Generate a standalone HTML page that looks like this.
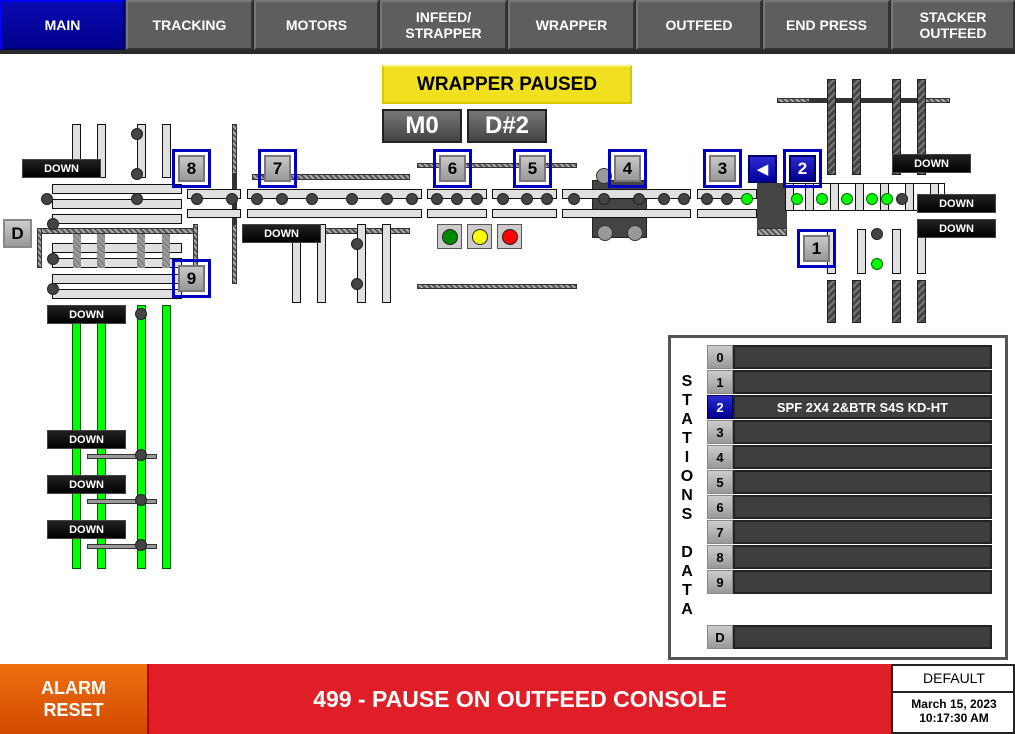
<!DOCTYPE html>
<html><head><meta charset="utf-8"><style>
*{box-sizing:border-box;margin:0;padding:0}
body{width:1015px;height:734px;background:#fff;position:relative;overflow:hidden;font-family:"Liberation Sans",sans-serif}
div{position:absolute}
.nb{top:0;height:50px;background:#5e5e5e;border:2px solid #777;border-right-color:#333;border-bottom-color:#333;color:#fff;font-weight:bold;font-size:14px;display:flex;align-items:center;justify-content:center;text-align:center;line-height:16px}
.r{background:#e0e0e0;border:1px solid #111}
.d{width:12px;height:12px;border-radius:50%;background:#444;border:1px solid #222}
.gd{width:12px;height:12px;border-radius:50%;background:#0f0;border:1px solid #060}
.h{background:repeating-linear-gradient(45deg,#555 0 2px,#aaa 2px 4px);border:1px solid #333}
.hv{background:repeating-linear-gradient(135deg,#444 0 3px,#777 3px 5px);border:1px solid #222}
.st{width:39px;height:39px;border:3px solid #0000c0}
.st span{position:absolute;left:3px;top:3px;width:27px;height:27px;background:linear-gradient(#c8c8c8,#999);border:2px solid #777;font-weight:bold;font-size:17px;display:flex;align-items:center;justify-content:center;color:#000}
.dn{width:79px;height:19px;background:linear-gradient(#222,#000);border:1px solid #444;color:#fff;font-size:11px;font-weight:bold;display:flex;align-items:center;justify-content:center}
.gb{background:#0f0;border:1px solid #050;width:9px}
.num{left:707px;width:26px;height:24px;background:linear-gradient(#ccc,#999);border:1px solid #888;font-weight:bold;font-size:13px;display:flex;align-items:center;justify-content:center}
.bar{left:733px;width:259px;height:24px;background:#3e3e3e;border:2px solid #222;color:#fff;font-weight:bold;font-size:13px;display:flex;align-items:center;justify-content:center}
.lt{width:25px;height:25px;background:#ccc;border:1px solid #555}
.lt i{position:absolute;left:4px;top:4px;width:16px;height:16px;border-radius:50%;border:1px solid #222}
</style></head><body>
<div style="left:0;top:0;width:1015px;height:54px;background:#2a2a2a"></div>
<div class="nb" style="left:0;width:125px;background:linear-gradient(#0a0ab0,#00008c);border-color:#00f #000060 #000060 #00f">MAIN</div>
<div class="nb" style="left:126px;width:127px">TRACKING</div>
<div class="nb" style="left:254px;width:125px">MOTORS</div>
<div class="nb" style="left:380px;width:127px">INFEED/<br>STRAPPER</div>
<div class="nb" style="left:508px;width:127px">WRAPPER</div>
<div class="nb" style="left:636px;width:126px">OUTFEED</div>
<div class="nb" style="left:763px;width:127px">END PRESS</div>
<div class="nb" style="left:891px;width:124px">STACKER<br>OUTFEED</div>

<!-- left infeed -->
<div class="r" style="left:72px;top:124px;width:9px;height:54px"></div>
<div class="r" style="left:97px;top:124px;width:9px;height:54px"></div>
<div class="r" style="left:137px;top:124px;width:9px;height:54px"></div>
<div class="r" style="left:162px;top:124px;width:9px;height:54px"></div>
<div class="d" style="left:131px;top:128px"></div><div class="d" style="left:131px;top:168px"></div>
<div class="dn" style="left:22px;top:159px">DOWN</div>
<div class="r" style="left:52px;top:184px;width:130px;height:10px"></div>
<div class="r" style="left:52px;top:199px;width:130px;height:10px"></div>
<div class="r" style="left:52px;top:214px;width:130px;height:10px"></div>
<div class="r" style="left:52px;top:243px;width:130px;height:10px"></div>
<div class="r" style="left:52px;top:258px;width:130px;height:10px"></div>
<div class="r" style="left:52px;top:274px;width:130px;height:10px"></div>
<div class="r" style="left:52px;top:289px;width:130px;height:10px"></div>
<div class="h" style="left:40px;top:228px;width:155px;height:6px"></div>
<div class="h" style="left:37px;top:228px;width:5px;height:40px"></div>
<div class="h" style="left:193px;top:224px;width:5px;height:44px"></div>
<div class="hv" style="left:73px;top:234px;width:8px;height:34px;background:repeating-linear-gradient(45deg,#999 0 3px,#777 3px 4px);border:none"></div>
<div class="hv" style="left:97px;top:234px;width:8px;height:34px;background:repeating-linear-gradient(45deg,#999 0 3px,#777 3px 4px);border:none"></div>
<div class="hv" style="left:137px;top:234px;width:8px;height:34px;background:repeating-linear-gradient(45deg,#999 0 3px,#777 3px 4px);border:none"></div>
<div class="hv" style="left:162px;top:234px;width:8px;height:34px;background:repeating-linear-gradient(45deg,#999 0 3px,#777 3px 4px);border:none"></div>
<div class="d" style="left:41px;top:193px"></div><div class="d" style="left:131px;top:193px"></div>
<div class="d" style="left:47px;top:218px"></div><div class="d" style="left:47px;top:253px"></div><div class="d" style="left:47px;top:283px"></div>
<div style="left:3px;top:219px;width:29px;height:29px;background:linear-gradient(#ccc,#999);border:2px solid #888;font-weight:bold;font-size:17px;display:flex;align-items:center;justify-content:center">D</div>
<div class="st" style="left:172px;top:149px"><span>8</span></div>
<div class="st" style="left:172px;top:259px"><span>9</span></div>
<div class="h" style="left:232px;top:124px;width:5px;height:160px"></div>
<div style="left:233px;top:173px;width:3px;height:52px;background:#333"></div>
<div class="r" style="left:187px;top:189px;width:54px;height:10px"></div>
<div class="r" style="left:187px;top:209px;width:54px;height:9px"></div>
<div class="d" style="left:191px;top:193px"></div><div class="d" style="left:226px;top:193px"></div>
<div class="h" style="left:252px;top:174px;width:158px;height:6px"></div>
<div class="r" style="left:247px;top:189px;width:175px;height:10px"></div>
<div class="r" style="left:247px;top:209px;width:175px;height:9px"></div>
<div class="d" style="left:251px;top:193px"></div><div class="d" style="left:276px;top:193px"></div><div class="d" style="left:306px;top:193px"></div><div class="d" style="left:346px;top:193px"></div><div class="d" style="left:381px;top:193px"></div><div class="d" style="left:406px;top:193px"></div>
<div class="st" style="left:258px;top:149px"><span>7</span></div>
<div class="h" style="left:320px;top:228px;width:90px;height:6px"></div>
<div class="r" style="left:292px;top:224px;width:9px;height:79px"></div>
<div class="r" style="left:317px;top:224px;width:9px;height:79px"></div>
<div class="r" style="left:357px;top:224px;width:9px;height:79px"></div>
<div class="r" style="left:382px;top:224px;width:9px;height:79px"></div>
<div class="d" style="left:351px;top:238px"></div><div class="d" style="left:351px;top:278px"></div>
<div class="dn" style="left:242px;top:224px">DOWN</div>

<!-- bottom-left green -->
<div class="gb" style="left:72px;top:305px;height:264px"></div>
<div class="gb" style="left:97px;top:305px;height:264px"></div>
<div class="gb" style="left:137px;top:305px;height:264px"></div>
<div class="gb" style="left:162px;top:305px;height:264px"></div>
<div class="h" style="left:87px;top:454px;width:70px;height:5px;background:#999"></div>
<div class="h" style="left:87px;top:499px;width:70px;height:5px;background:#999"></div>
<div class="h" style="left:87px;top:544px;width:70px;height:5px;background:#999"></div>
<div class="d" style="left:135px;top:308px"></div><div class="d" style="left:135px;top:449px"></div><div class="d" style="left:135px;top:494px"></div><div class="d" style="left:135px;top:539px"></div>
<div class="dn" style="left:47px;top:305px">DOWN</div>
<div class="dn" style="left:47px;top:430px">DOWN</div>
<div class="dn" style="left:47px;top:475px">DOWN</div>
<div class="dn" style="left:47px;top:520px">DOWN</div>

<!-- center -->
<div style="left:382px;top:65px;width:250px;height:39px;background:#f0e020;border:2px solid #d8c800;border-top-color:#f8f070;font-weight:bold;font-size:19px;display:flex;align-items:center;justify-content:center">WRAPPER PAUSED</div>
<div style="left:382px;top:109px;width:80px;height:34px;background:linear-gradient(#777,#444);border:2px solid #222;color:#fff;font-weight:bold;font-size:24px;display:flex;align-items:center;justify-content:center">M0</div>
<div style="left:467px;top:109px;width:80px;height:34px;background:linear-gradient(#777,#444);border:2px solid #222;color:#fff;font-weight:bold;font-size:24px;display:flex;align-items:center;justify-content:center">D#2</div>
<div class="h" style="left:417px;top:163px;width:160px;height:5px"></div>
<div class="h" style="left:417px;top:284px;width:160px;height:5px"></div>
<div style="left:592px;top:180px;width:55px;height:58px;background:#444;border:1px solid #222"></div>
<div style="left:596px;top:168px;width:16px;height:16px;border-radius:50%;background:#999;border:1px solid #333"></div>
<div style="left:597px;top:225px;width:16px;height:16px;border-radius:50%;background:#999;border:1px solid #333"></div>
<div style="left:627px;top:225px;width:16px;height:16px;border-radius:50%;background:#999;border:1px solid #333"></div>
<div class="r" style="left:427px;top:189px;width:60px;height:10px"></div><div class="r" style="left:427px;top:209px;width:60px;height:9px"></div>
<div class="r" style="left:492px;top:189px;width:65px;height:10px"></div><div class="r" style="left:492px;top:209px;width:65px;height:9px"></div>
<div class="r" style="left:562px;top:189px;width:129px;height:10px"></div><div class="r" style="left:562px;top:209px;width:129px;height:9px"></div>
<div class="r" style="left:697px;top:189px;width:60px;height:10px"></div><div class="r" style="left:697px;top:209px;width:60px;height:9px"></div>
<div class="d" style="left:431px;top:193px"></div><div class="d" style="left:451px;top:193px"></div><div class="d" style="left:471px;top:193px"></div>
<div class="d" style="left:497px;top:193px"></div><div class="d" style="left:521px;top:193px"></div><div class="d" style="left:541px;top:193px"></div>
<div class="d" style="left:568px;top:193px"></div><div class="d" style="left:598px;top:193px"></div><div class="d" style="left:633px;top:193px"></div><div class="d" style="left:658px;top:193px"></div><div class="d" style="left:678px;top:193px"></div>
<div class="d" style="left:701px;top:193px"></div><div class="d" style="left:721px;top:193px"></div><div class="gd" style="left:741px;top:193px"></div>
<div class="st" style="left:433px;top:149px"><span>6</span></div>
<div class="st" style="left:513px;top:149px"><span>5</span></div>
<div class="st" style="left:608px;top:149px"><span>4</span></div>
<div class="st" style="left:703px;top:149px"><span>3</span></div>
<div class="lt" style="left:437px;top:224px"><i style="background:#080"></i></div>
<div class="lt" style="left:467px;top:224px"><i style="background:#ff0"></i></div>
<div class="lt" style="left:497px;top:224px"><i style="background:#f00"></i></div>

<!-- right area -->
<div style="left:777px;top:98px;width:173px;height:5px;background:#333"></div>
<div class="h" style="left:777px;top:98px;width:33px;height:5px"></div>
<div class="h" style="left:917px;top:98px;width:33px;height:5px"></div>
<div class="hv" style="left:827px;top:79px;width:9px;height:96px"></div>
<div class="hv" style="left:852px;top:79px;width:9px;height:96px"></div>
<div class="hv" style="left:892px;top:79px;width:9px;height:96px"></div>
<div class="hv" style="left:917px;top:79px;width:9px;height:96px"></div>
<div class="hv" style="left:827px;top:280px;width:9px;height:43px"></div>
<div class="hv" style="left:852px;top:280px;width:9px;height:43px"></div>
<div class="hv" style="left:892px;top:280px;width:9px;height:43px"></div>
<div class="hv" style="left:917px;top:280px;width:9px;height:43px"></div>
<div style="left:757px;top:183px;width:30px;height:47px;background:#444"></div>
<div class="h" style="left:757px;top:228px;width:30px;height:8px"></div>
<div class="r" style="left:785px;top:183px;width:160px;height:28px;background:#fff"></div>
<div class="r" style="left:805px;top:183px;width:9px;height:28px"></div>
<div class="r" style="left:830px;top:183px;width:9px;height:28px"></div>
<div class="r" style="left:855px;top:183px;width:9px;height:28px"></div>
<div class="r" style="left:880px;top:183px;width:9px;height:28px"></div>
<div class="r" style="left:905px;top:183px;width:9px;height:28px"></div>
<div class="r" style="left:930px;top:183px;width:9px;height:28px"></div>
<div class="r" style="left:785px;top:183px;width:9px;height:28px"></div>
<div class="gd" style="left:791px;top:193px"></div><div class="gd" style="left:816px;top:193px"></div><div class="gd" style="left:841px;top:193px"></div><div class="gd" style="left:866px;top:193px"></div><div class="gd" style="left:881px;top:193px"></div><div class="d" style="left:896px;top:193px"></div>
<div style="left:748px;top:155px;width:29px;height:28px;background:linear-gradient(#2a2ad0,#0000a0);border:2px solid #000070;color:#fff;font-size:15px;display:flex;align-items:center;justify-content:center">◀</div>
<div class="st" style="left:783px;top:149px"><span style="background:linear-gradient(#2a2ad0,#000090);border-color:#000060;color:#fff">2</span></div>
<div class="r" style="left:827px;top:229px;width:9px;height:45px"></div>
<div class="r" style="left:857px;top:229px;width:9px;height:45px"></div>
<div class="r" style="left:892px;top:229px;width:9px;height:45px"></div>
<div class="r" style="left:917px;top:229px;width:9px;height:45px"></div>
<div class="d" style="left:871px;top:228px"></div><div class="gd" style="left:871px;top:258px"></div>
<div class="st" style="left:797px;top:229px"><span>1</span></div>
<div class="dn" style="left:892px;top:154px">DOWN</div>
<div class="dn" style="left:917px;top:194px">DOWN</div>
<div class="dn" style="left:917px;top:219px">DOWN</div>

<!-- stations data -->
<div style="left:668px;top:335px;width:340px;height:325px;border:3px solid #555;background:#fff"></div>
<div style="left:676px;top:372px;width:22px;font-weight:bold;font-size:16px;line-height:19px;text-align:center">S<br>T<br>A<br>T<br>I<br>O<br>N<br>S<br><br>D<br>A<br>T<br>A</div>
<div class="num" style="top:345px">0</div><div class="bar" style="top:345px"></div>
<div class="num" style="top:370px">1</div><div class="bar" style="top:370px"></div>
<div class="num" style="top:395px;background:linear-gradient(#2a2ad0,#000090);border-color:#000060;color:#fff">2</div><div class="bar" style="top:395px">SPF 2X4 2&amp;BTR S4S KD-HT</div>
<div class="num" style="top:420px">3</div><div class="bar" style="top:420px"></div>
<div class="num" style="top:445px">4</div><div class="bar" style="top:445px"></div>
<div class="num" style="top:470px">5</div><div class="bar" style="top:470px"></div>
<div class="num" style="top:495px">6</div><div class="bar" style="top:495px"></div>
<div class="num" style="top:520px">7</div><div class="bar" style="top:520px"></div>
<div class="num" style="top:545px">8</div><div class="bar" style="top:545px"></div>
<div class="num" style="top:570px">9</div><div class="bar" style="top:570px"></div>
<div class="num" style="top:625px">D</div><div class="bar" style="top:625px"></div>

<!-- bottom bar -->
<div style="left:0;top:664px;width:147px;height:70px;background:linear-gradient(#f07010,#d04a00);color:#fff;font-weight:bold;font-size:18px;line-height:22px;display:flex;align-items:center;justify-content:center;text-align:center">ALARM<br>RESET</div>
<div style="left:147px;top:664px;width:744px;height:70px;background:#e01e28;border-left:2px solid #b00;color:#fff;font-weight:bold;font-size:23px;display:flex;align-items:center;justify-content:center">499 - PAUSE ON OUTFEED CONSOLE</div>
<div style="left:891px;top:664px;width:124px;height:70px;background:#fff;border:2px solid #222"></div>
<div style="left:893px;top:665px;width:122px;height:28px;border-bottom:2px solid #222;font-size:14px;display:flex;align-items:center;justify-content:center">DEFAULT</div>
<div style="left:893px;top:697px;width:122px;font-size:12px;font-weight:bold;line-height:14px;text-align:center">March 15, 2023<br>10:17:30 AM</div>
</body></html>
